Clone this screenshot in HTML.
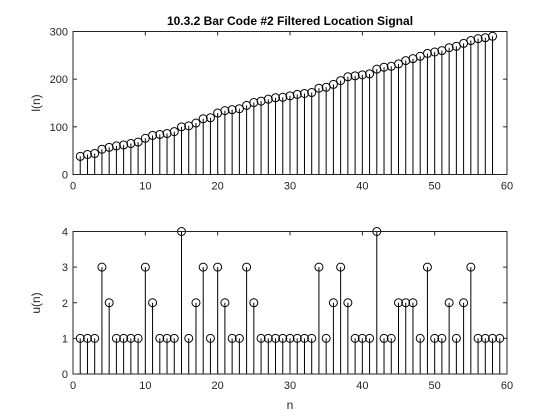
<!DOCTYPE html>
<html><head><meta charset="utf-8">
<style>
html,body{margin:0;padding:0;background:#fff;}
svg{display:block;font-family:"Liberation Sans",Arial,sans-serif;}
</style></head>
<body>
<svg id="chart" width="560" height="420" viewBox="0 0 560 420">
<rect width="560" height="420" fill="#fff"/>
<text x="290" y="25" text-anchor="middle" font-size="12" font-weight="bold" fill="#000">10.3.2 Bar Code #2 Filtered Location Signal</text>
<g id="top"></g>
<g id="bot"></g>
<text x="40" y="103" text-anchor="middle" font-size="12" fill="#262626" transform="rotate(-90 40 103)">l(n)</text>
<text x="40" y="303" text-anchor="middle" font-size="12" fill="#262626" transform="rotate(-90 40 303)">u(n)</text>
<text x="290" y="409" text-anchor="middle" font-size="12" fill="#262626">n</text>
</svg>
<script>
const topValues = [38,42,44,53,57,60,62,65,68,76,82,84,86,90,100,102,108,117,119,129,134,136,138,145,151,154,158,161,162,165,168,170,172,181,183,189,197,205,207,209,211,221,225,227,232,239,243,248,254,257,260,266,269,275,281,285,287,290];
const botValues = [1,1,1,3,2,1,1,1,1,3,2,1,1,1,4,1,2,3,1,3,2,1,1,3,2,1,1,1,1,1,1,1,1,3,1,2,3,2,1,1,1,4,1,1,2,2,2,1,3,1,1,2,1,2,3,1,1,1,1];
const xTicks = [0,10,20,30,40,50,60];
const topYTicks = [0,100,200,300];
const botYTicks = [0,1,2,3,4];
const NS = "http://www.w3.org/2000/svg";
function mk(tag, attrs, parent){const e=document.createElementNS(NS,tag);for(const k in attrs)e.setAttribute(k,attrs[k]);parent.appendChild(e);return e;}
function panel(g, vals, yTicks, ymax, top, bottom, prefix){
  const L=73, R=507;
  const sx=v=>L+(v-0)/60*(R-L);
  const sy=v=>bottom-v/ymax*(bottom-top);
  // stems and markers
  vals.forEach((v,i)=>{
    const n=i+1;
    const s=mk('line',{x1:sx(n),x2:sx(n),y1:sy(0),y2:sy(v),stroke:'#000','stroke-width':1},g);
    
    
    const c=mk('circle',{cx:sx(n),cy:sy(v),r:4,fill:'none',stroke:'#000','stroke-width':1},g);
    
    
  });
  const box=mk('rect',{x:L,y:top,width:R-L,height:bottom-top,fill:'none',stroke:'#262626','stroke-width':1},g);
  
  
  xTicks.forEach(t=>{
    const x=sx(t);
    mk('line',{x1:x,x2:x,y1:bottom,y2:bottom-4,stroke:'#262626'},g);
    mk('line',{x1:x,x2:x,y1:top,y2:top+4,stroke:'#262626'},g);
    const tx=mk('text',{x:x,y:bottom+15,'text-anchor':'middle','font-size':11,fill:'#262626'},g);
    tx.textContent=t;
    
    
  });
  yTicks.forEach(t=>{
    const y=sy(t);
    mk('line',{x1:L,x2:L+4,y1:y,y2:y,stroke:'#262626'},g);
    mk('line',{x1:R,x2:R-4,y1:y,y2:y,stroke:'#262626'},g);
    const tx=mk('text',{x:L-5,y:y+4,'text-anchor':'end','font-size':11,fill:'#262626'},g);
    tx.textContent=t;
    
    
  });
}
panel(document.getElementById('top'), topValues, topYTicks, 300, 31.5, 174.5, 'top');
panel(document.getElementById('bot'), botValues, botYTicks, 4, 231.5, 374, 'bottom');
</script>
</body></html>
